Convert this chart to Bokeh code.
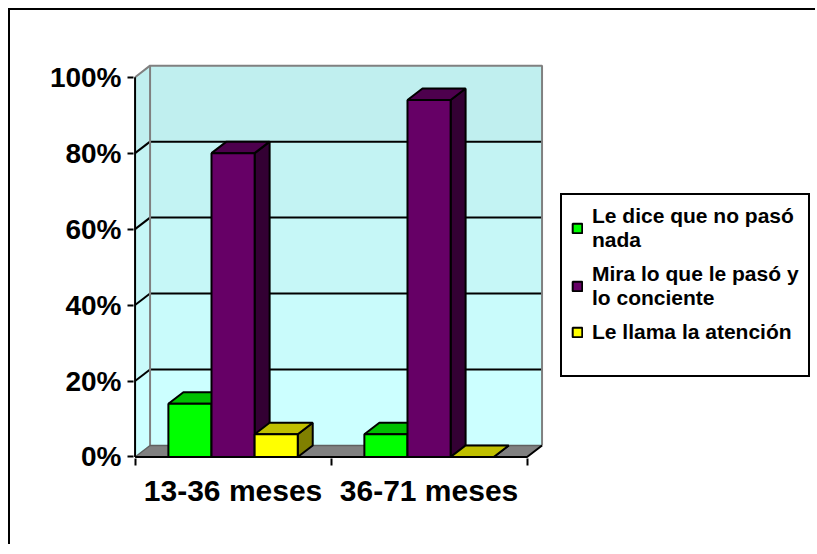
from bokeh.plotting import figure
from bokeh.models import FixedTicker, Legend, LegendItem, Range1d
from bokeh.embed import file_html
from bokeh.resources import INLINE

# ---- data ----
categories = ["13-36 meses", "36-71 meses"]
series_names = ["Le dice que no pasó\nnada", "Mira lo que le pasó y\nlo conciente", "Le llama la atención"]
le_dice = [14, 6]
mira = [80, 94]
le_llama = [6, 0]
y_ticks = [0, 20, 40, 60, 80, 100]
y_tick_labels = ["0%", "20%", "40%", "60%", "80%", "100%"]

# ---- styles ----
series = [le_dice, mira, le_llama]
front_colors = ["#00FF00", "#660066", "#FFFF00"]
top_colors = ["#00C000", "#4D004D", "#C0C000"]
side_colors = ["#008000", "#330033", "#808000"]
wall_colors = ["#CCFFFF", "#C9FBFB", "#C6F7F7", "#C3F3F3", "#C0EFEF"]
DX, DY = 0.0765, 3.03   # 3-D depth offsets
BW = 0.22               # bar width (category units)
FONT = "Liberation Sans"

n = len(categories)
ymax = y_ticks[-1]

p = figure(width=807, height=536,
           x_range=Range1d(-0.008, 3.482), y_range=Range1d(-0.4, 103.6),
           output_backend="svg", toolbar_location=None,
           min_border_left=123, min_border_right=0,
           min_border_top=53, min_border_bottom=88)
p.margin = (8, 0, 0, 8)
p.styles = {"border-top": "2px solid black", "border-left": "2px solid black"}
p.background_fill_color = "white"
p.border_fill_color = "white"
p.outline_line_color = None
p.grid.visible = False

# ---- walls ----
for k in range(len(y_ticks) - 1):
    y0, y1 = y_ticks[k], y_ticks[k + 1]
    p.quad(left=DX, right=n + DX, bottom=y0 + DY, top=y1 + DY,
           fill_color=wall_colors[k], line_color=None)
    p.patch([0, DX, DX, 0], [y0, y0 + DY, y1 + DY, y1],
            fill_color=wall_colors[k], line_color=None)
# floor
p.patch([0, n, n + DX, DX], [0, 0, DY, DY], fill_color="#808080", line_color=None)

# gridlines
inner = y_ticks[1:-1]
p.segment(x0=[DX] * len(inner), y0=[v + DY for v in inner],
          x1=[n + DX] * len(inner), y1=[v + DY for v in inner],
          line_color="black", line_width=2)
p.segment(x0=[0] * len(inner), y0=inner, x1=[DX] * len(inner), y1=[v + DY for v in inner],
          line_color="black", line_width=2)
# gray wall edges
p.line([0, DX, n + DX, n + DX], [ymax, ymax + DY, ymax + DY, DY], line_color="#808080", line_width=2)
p.line([DX, DX], [DY, ymax + DY], line_color="#808080", line_width=2)
p.line([0, DX, n + DX], [0, DY, DY], line_color="#606060", line_width=1.5)
# front axis edges
p.line([0, 0], [0, ymax], line_color="black", line_width=2)
p.line([0, n, n + DX], [0, 0, DY], line_color="black", line_width=2)

# ---- bars ----
sides, tops, fronts = [], [], []
for i, vals in enumerate(series):
    x0s = [g + 0.5 + (i - 1.5) * BW for g in range(n)]
    sxs = [[x + BW, x + BW + DX, x + BW + DX, x + BW] for x in x0s]
    sys_ = [[0, DY, v + DY, v] for v in vals]
    txs = [[x, x + BW, x + BW + DX, x + DX] for x in x0s]
    tys = [[v, v, v + DY, v + DY] for v in vals]
    sides.append((sxs, sys_))
    tops.append((txs, tys))
    fronts.append((x0s, vals))
for i in range(3):
    p.patches(sides[i][0], sides[i][1], fill_color=side_colors[i], line_color="black", line_width=2)
for i in range(3):
    p.patches(tops[i][0], tops[i][1], fill_color=top_colors[i], line_color="black", line_width=2)
front_r = []
for i in range(3):
    x0s, vals = fronts[i]
    r = p.quad(left=x0s, right=[x + BW for x in x0s], bottom=[0] * n, top=vals,
               fill_color=front_colors[i], line_color="black", line_width=2)
    front_r.append(r)
dummy = p.quad(left=[], right=[], bottom=[], top=[], fill_alpha=0, line_alpha=0)

# ---- axes ----
xa = p.xaxis[0]
xa.ticker = FixedTicker(ticks=[g + 0.5 for g in range(n)], minor_ticks=list(range(n + 1)))
xa.major_label_overrides = {g + 0.5: c for g, c in enumerate(categories)}
xa.axis_line_color = None
xa.major_tick_out = 0
xa.major_tick_in = 0
xa.minor_tick_out = 7
xa.minor_tick_in = 0
xa.minor_tick_line_color = "black"
xa.minor_tick_line_width = 2
xa.major_label_standoff = 8
xa.major_label_text_font = FONT
xa.major_label_text_font_style = "bold"
xa.major_label_text_font_size = "30px"
xa.major_label_text_color = "black"

ya = p.yaxis[0]
ya.ticker = FixedTicker(ticks=y_ticks)
ya.major_label_overrides = dict(zip(y_ticks, y_tick_labels))
ya.axis_line_color = None
ya.major_tick_out = 6
ya.major_tick_in = 0
ya.major_tick_line_color = "black"
ya.major_tick_line_width = 2
ya.minor_tick_line_color = None
ya.major_label_standoff = 6
ya.major_label_text_font = FONT
ya.major_label_text_font_style = "bold"
ya.major_label_text_font_size = "28px"
ya.major_label_text_color = "black"

# ---- legend ----
items = [LegendItem(label=series_names[i], renderers=[front_r[i]]) for i in range(3)]
items.append(LegendItem(label=" ", renderers=[dummy]))
legend = Legend(items=items, location=(427, 81), orientation="vertical",
                border_line_color="black", border_line_width=2, border_line_alpha=1,
                background_fill_color="white", background_fill_alpha=1,
                padding=9, spacing=10, margin=0,
                glyph_width=12, glyph_height=12, label_standoff=9,
                label_text_font=FONT, label_text_font_style="bold",
                label_text_font_size="21px", label_text_line_height=1.15,
                label_text_color="black")
p.add_layout(legend)

open("out.html", "w").write(file_html(p, INLINE))
